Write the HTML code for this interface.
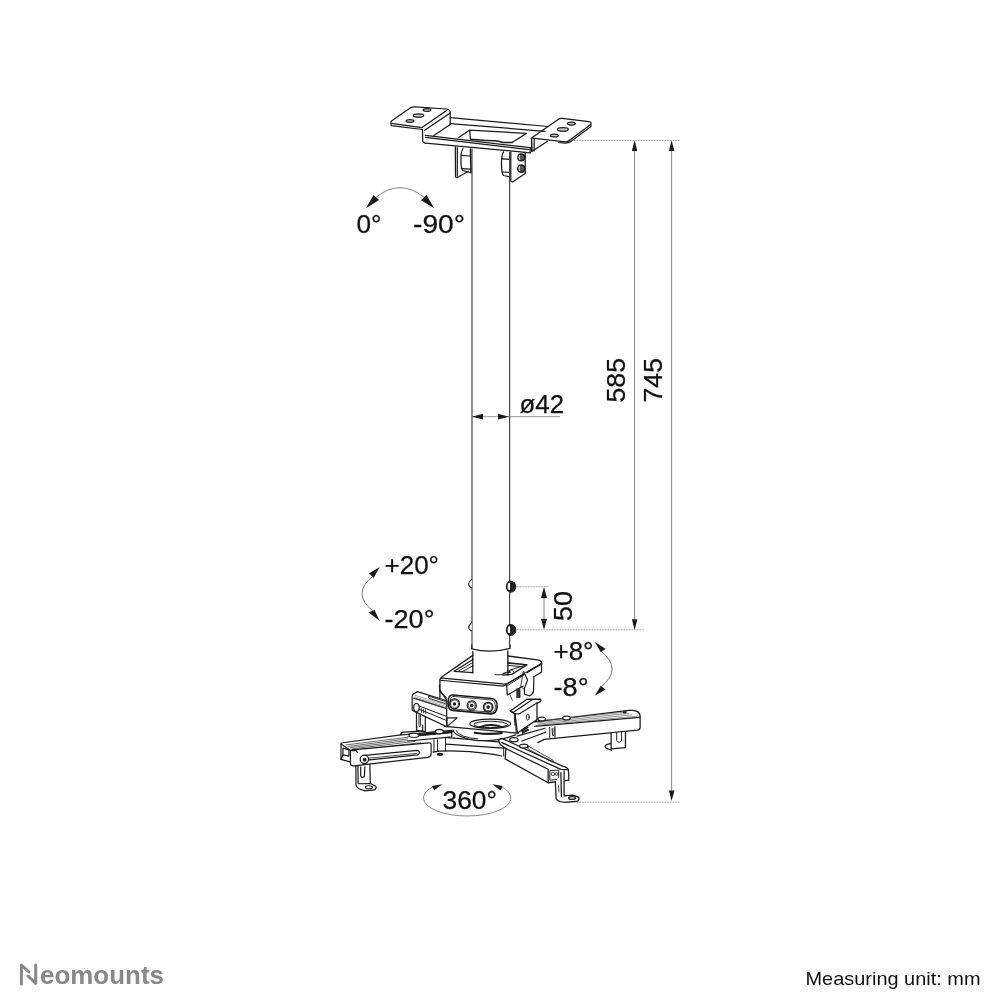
<!DOCTYPE html>
<html><head><meta charset="utf-8">
<style>
html,body{margin:0;padding:0;background:#fff;}
svg{display:block;will-change:transform;}
text{font-family:"Liberation Sans",sans-serif;}
</style></head><body>
<svg width="1004" height="1004" viewBox="0 0 1004 1004">
<!-- dimension lines -->
<g stroke="#888" stroke-width="1" fill="none">
  <line x1="634.6" y1="150" x2="634.6" y2="620"/>
  <line x1="671.6" y1="150" x2="671.6" y2="792"/>
  <line x1="544" y1="597" x2="544" y2="620"/>
  <line x1="472" y1="416.7" x2="560" y2="416.7" stroke="#999"/>
  <path d="M373,576 Q351,593.5 373,611" stroke="#777"/>
  <path d="M601,651 Q623,669 601,687" stroke="#777"/>
  <path d="M433.5,786.5 A43.7,18 0 1 0 500.9,786.5" stroke="#888"/>
  <path d="M376.3,197.1 Q400,178.1 423.7,197.1" stroke="#888"/>
</g>
<g stroke="#888" stroke-width="1" fill="none" stroke-dasharray="0.8 0.8">
  <line x1="574" y1="140.5" x2="680" y2="140.5"/>
  <line x1="517" y1="586.7" x2="548" y2="586.7"/>
  <line x1="517" y1="629.8" x2="644" y2="629.8"/>
  <line x1="566" y1="802.3" x2="680" y2="802.3"/>
</g>
<!-- arrowheads -->
<g fill="#1a1a1a">
  <path d="M634.6,140.3 L631.9,151 L637.3,151Z"/>
  <path d="M671.6,140.3 L668.9,151 L674.3,151Z"/>
  <path d="M634.6,630 L631.9,619.3 L637.3,619.3Z"/>
  <path d="M671.6,801 L668.9,790.5 L674.5,790.5Z"/>
  <path d="M544,587 L541,598 L547,598Z"/>
  <path d="M544,629.8 L541,618.8 L547,618.8Z"/>
  <path d="M472,416.7 L483,413.8 L483,419.6Z"/>
  <path d="M509,416.7 L498,413.8 L498,419.6Z"/>
  <path d="M379.7,567 L368.9,573.5 L373.8,577.8Z"/>
  <path d="M379.7,620.8 L368.5,612.5 L374.5,610Z"/>
  <path d="M594.8,642 L600.8,652.3 L605.6,648.7Z"/>
  <path d="M594.8,695.7 L600.8,685.8 L605.6,689.4Z"/>
  <path d="M366,208.3 L373.5,195.1 L379.1,199.9Z"/>
  <path d="M434.1,208.3 L426.5,194.7 L421,200.3Z"/>
  <path d="M442.4,784.2 L432,785.9 L434.2,790.3Z"/>
  <path d="M492.2,784.2 L502.7,785.9 L500.5,790.3Z"/>
</g>

<g id="topplate" stroke="#1a1a1a" stroke-width="1.25" fill="none" stroke-linejoin="round" stroke-linecap="round">
  <!-- left plate -->
  <path d="M422,127.6 L393,123.6 Q389.5,122.8 391.5,121 L410.5,107.8 Q412.5,106.6 415,106.8 L446.5,109 Q450.5,109.6 450.2,113"/>
  <path d="M391,123.6 L391.3,125.6 L422.5,129.5"/>
  <path d="M422,127.6 L447,110.2"/>
  <path d="M424.6,130.3 L450.2,113 L450.2,124.5 L433.8,135.4"/>
  <path d="M422.5,129.5 L422.7,141.5 L425,143"/>
  <ellipse cx="418.5" cy="115.5" rx="5.2" ry="1.7" fill="#ccc"/>
  <ellipse cx="427" cy="110" rx="3.9" ry="1.3" fill="#ccc"/>
  <ellipse cx="410" cy="121" rx="3.9" ry="1.3" fill="#ccc"/>
  <!-- back rail -->
  <path d="M450.2,117.6 L548,126.5"/>
  <path d="M450.2,123.6 L545,131.3"/>
  <!-- front rail -->
  <path d="M425.4,135.4 L530.2,147.7"/>
  <path d="M425.4,137.3 L529,149.6"/>
  <path d="M425.4,143.1 L530.2,152.8"/>
  <path d="M530.2,147.7 L530.2,152.8 M531.5,139 L532,151"/>
  <!-- inner frame -->
  <path d="M459,137.3 L469.4,130.2 L526.4,133.4 L512.1,142.5"/>
  <path d="M469.8,131 L470.4,138.6"/>
  
  
  <path d="M470.7,139.2 L483.6,140.3 Q492,140.7 495.3,140.8 Q500,141.5 503,142.5 L512.1,142.5" stroke-width="1.5"/>
  <!-- right plate -->
  <path d="M532.4,138.2 L565.6,141.8 Q568.6,141.8 570.5,139.5 L590.7,124.6 Q592,122 588.9,121.6 L562,118.4 Q559.8,118.3 558.5,119.2 L531.1,138.2"/>
  <path d="M590.9,124.8 L591,126.4 L570.8,141.6 Q568.6,143.2 565.3,143.2 L558.4,142.5"/>
  <path d="M531.5,139 L531.7,151.6 L547.6,141.3"/>
  <path d="M534.2,139.4 L534.2,151"/>
  <ellipse cx="562.9" cy="129.4" rx="5.4" ry="1.7" fill="#ccc"/>
  <ellipse cx="571.4" cy="123.6" rx="4" ry="1.4" fill="#ccc"/>
  <ellipse cx="554.4" cy="135.5" rx="4" ry="1.4" fill="#ccc"/>
  <!-- left hanging tab -->
  <path d="M455.3,147 L455.5,177 L457,177.8 L468,171.5"/>
  <path d="M457.3,147.6 L457.3,176"/>
  <path d="M463,148.5 Q460.5,152 461,162 Q461,169 463,170.5 L471.5,172.8"/>
  <path d="M461.3,155.4 L469.8,156 M461.3,168.6 L470.5,169.2"/>
  <path d="M470.5,149 L471,172" stroke-width="1.6"/>
  <!-- right hanging tab -->
  <path d="M510.8,151.8 L510.8,181.2 L512.5,182 L525.2,173.5 L525.2,152.4"/>
  <path d="M503.5,151.8 Q501.3,155 501.5,165 Q501.8,174 503.5,175.5 L510,176.8"/>
  <path d="M501.7,158.8 L510.5,159.5 M501.7,172 L510.5,172.5"/>
  <circle cx="521.3" cy="157.4" r="3.4" stroke-width="1.4" fill="#555"/><path d="M519.5,155.5 Q518.6,157.4 519.5,159.3" stroke="#fff" stroke-width="1"/>
  <circle cx="521.3" cy="168.6" r="3.6" stroke-width="1.4" fill="#555"/><path d="M519.5,166.6 Q518.6,168.6 519.5,170.6" stroke="#fff" stroke-width="1"/>
</g>

<g id="leftarm" transform="translate(335,725) scale(0.0996)" stroke="#1a1a1a" fill="none" stroke-linejoin="round" stroke-linecap="round">
 <g stroke-width="12">
  <!-- channel top & left face -->
  <path d="M60,345 L60,190 Q62,180 80,178 L660,100 L860,88 L1004,72"/>
  <path d="M60,190 L150,252"/>
  <path d="M60,345 L150,370"/>
  <path d="M80,232 L140,250 L140,312 L80,300 Z"/>
  <path d="M80,300 L60,340"/>
  <!-- ridges on top -->
  <path d="M110,200 L760,120 M130,215 L770,135 M150,228 L780,150 M170,240 L800,165 M190,252 L860,178" stroke-width="8" stroke="#444"/>
  <!-- front slider -->
  <path d="M155,258 Q155,250 170,250 L940,180 Q965,178 965,200 L965,295 Q962,318 930,325 L190,410 Q158,412 155,390 Z" fill="#fff"/>
  <path d="M165,258 L210,255 L225,275" />
  <path d="M300,355 L830,300 Q850,295 848,275 Q845,255 825,255 L300,305 Q268,310 268,332 Q270,355 300,355Z" fill="#fff"/>
  <path d="M320,335 L820,285" stroke-width="8"/>
  <circle cx="295" cy="345" r="42" fill="#fff"/>
  <circle cx="298" cy="348" r="13" fill="#222"/>
  <!-- foot -->
  <path d="M210,410 L210,600 Q212,620 240,640 L300,662 L395,652 Q420,640 410,615 L355,588 L350,395"/>
  <path d="M230,410 L232,590 L355,588"/>
  <path d="M258,420 L258,510 Q270,540 295,515 L300,420"/>
  <ellipse cx="340" cy="625" rx="35" ry="15"/>
  <!-- clamp on top -->
  <path d="M660,100 Q660,75 690,72 L860,62 Q900,60 920,78 L1004,70"/>
  <ellipse cx="795" cy="112" rx="42" ry="25" fill="#fff"/>
  <path d="M820,10 L820,60 M880,0 L880,60"/>
 </g>
</g>



<g id="center" transform="translate(430,715) scale(0.0996)" stroke="#1a1a1a" fill="none" stroke-linejoin="round" stroke-linecap="round">
 <g stroke-width="12">
  <!-- base body -->
  <path d="M150,225 L720,272 M160,292 L740,332" />
  <path d="M30,372 Q120,350 400,368 Q600,385 720,412" />
  <path d="M40,250 L40,372 M75,250 L75,362 M155,225 L155,362 M740,320 L740,412 M775,330 L775,422" stroke-width="10"/>
  <ellipse cx="100" cy="395" rx="25" ry="10" fill="#222"/>
  <!-- big disc -->
  <path d="M230,150 Q250,225 480,258 Q700,262 860,200" fill="#fff"/>
  <path d="M262,155 Q290,225 480,240" stroke-width="10"/>
  <path d="M450,178 Q590,200 720,182" stroke-width="22"/>
  <!-- swivel plate -->
  <path d="M150,115 L875,182" />
  <ellipse cx="605" cy="88" rx="205" ry="47" fill="#fff"/>
  <ellipse cx="610" cy="95" rx="170" ry="32" stroke-width="10"/>
  <path d="M500,122 Q605,80 720,120" stroke-width="18"/>
  <path d="M860,0 L865,180 M890,0 L885,185" stroke-width="11"/>
 </g>
</g>
<g id="rightside" transform="translate(490,690) scale(0.15936)" stroke="#1a1a1a" fill="none" stroke-linejoin="round" stroke-linecap="round">
 <g stroke-width="8">
  <!-- right arm -->
  <path d="M280,200 L870,128 Q940,122 942,165 L942,238 Q940,250 925,252 L340,310 L300,330" fill="#fff"/>
  <path d="M280,228 L940,172"/>
  <path d="M300,195 L860,138 M300,205 L870,147 M300,214 L890,156 M290,222 L920,165" stroke-width="4" stroke="#555"/>
  <path d="M375,235 L375,300 M408,230 L408,296 M390,240 L392,285 L402,285 L402,238" stroke-width="6"/>
  <ellipse cx="325" cy="182" rx="24" ry="12" fill="#fff"/>
  <ellipse cx="480" cy="176" rx="24" ry="12" fill="#fff"/>
  <ellipse cx="845" cy="140" rx="8" ry="4" fill="#333"/>
  <path d="M760,272 L760,370 L850,362 L850,265 M760,335 L728,345 Q715,355 730,366 L762,378" fill="#fff"/>
  <path d="M795,268 L795,318 Q810,338 825,318 L825,266" stroke-width="6"/>
  <!-- right block -->
  <path d="M127,132 L232,58 L317,57 Q324,66 315,74 L295,82 L295,186 L172,270 L157,150 Z" fill="#fff"/>
  <path d="M147,140 L262,63 M182,150 L297,80 M157,150 L182,150" stroke-width="7"/>
  <path d="M127,132 L157,150" />
  <ellipse cx="237" cy="170" rx="9" ry="19" stroke-width="6"/>
  <path d="M152,155 L156,222" stroke-width="6"/>
  <path d="M200,255 L235,235 M205,268 L238,250" stroke-width="12"/>
  <!-- connector from center to right arm -->
  <path d="M170,290 L345,240 M200,320 L350,265" />
  <!-- front-right arm -->
  <path d="M55,318 Q58,305 78,305 L455,478 Q492,486 492,505 L495,565 L365,582 L95,432 L100,368 Q52,340 55,318 Z" fill="#fff"/>
  <path d="M75,330 L445,498 L490,500 M100,368 L365,497 L365,582"/>
  <path d="M378,505 L432,503 L430,560 L378,566 Z" stroke-width="6"/>
  <circle cx="395" cy="527" r="11" stroke-width="5"/><circle cx="418" cy="527" r="9" stroke-width="5"/>
  <path d="M245,355 L395,440 Q402,452 390,452 L240,370 Q230,358 245,355Z" stroke-width="5"/>
  <path d="M410,575 L415,682 Q420,700 470,705 L550,698 Q565,685 555,672 L520,660 L465,665 L465,508 M445,518 L448,668" fill="#fff"/>
  <ellipse cx="515" cy="678" rx="22" ry="9"/>
  <path d="M430,600 L432,640" stroke-width="5"/>
  <ellipse cx="150" cy="312" rx="26" ry="13" fill="#fff"/>
  <ellipse cx="212" cy="352" rx="26" ry="13" fill="#fff"/>
 </g>
</g>
<g id="midleft" transform="translate(405,685) scale(0.0996)" stroke="#1a1a1a" fill="none" stroke-linejoin="round" stroke-linecap="round">
 <g stroke-width="12">
  <!-- ring below plate -->
  <!-- collar lower left -->
  <path d="M345,0 L350,60 L415,130"/>
  
  <!-- oval plate -->
  <path d="M480,100 L870,135 Q930,145 925,220 Q920,290 860,290 L480,255 Q430,250 432,180 Q435,95 480,100 Z" fill="#fff" stroke-width="16"/>
  <path d="M485,115 L865,150 Q910,160 908,220 Q905,275 860,273 L485,240 Q450,235 452,180 Q455,110 485,115Z" stroke-width="8"/>
  <circle cx="497" cy="190" r="50"/><circle cx="497" cy="190" r="40" stroke-width="7"/><circle cx="497" cy="190" r="12" fill="#333"/>
  <circle cx="670" cy="205" r="46"/><circle cx="670" cy="205" r="36" stroke-width="7"/><circle cx="670" cy="205" r="12" fill="#333"/>
  <circle cx="835" cy="222" r="48"/><circle cx="835" cy="222" r="38" stroke-width="7"/><circle cx="835" cy="222" r="12" fill="#333"/>
  <!-- left bracket -->
  <path d="M72,250 L72,112 Q74,90 100,82 L124,66 L419,158 L419,420 L131,282 Q80,262 72,250"  fill="#fff"/>
  <path d="M88,132 L412,234"/>
  <path d="M100,103 L412,200 M100,120 L412,217 M100,135 L412,232" stroke-width="5" stroke="#555"/>
  <path d="M240,113 L405,165 Q418,176 405,186 L240,134 Q228,124 240,113 Z" fill="#fff" stroke-width="9"/>
  <path d="M140,210 L412,314 M140,242 L412,354" stroke-width="10"/>
  <ellipse cx="115" cy="226" rx="28" ry="40" fill="#fff"/>
  <path d="M165,236 L165,275 M185,242 L185,280 M205,248 L205,285" stroke-width="8"/>
  <path d="M348,50 L420,154 M420,330 L524,330 L420,418 Z" />
  <!-- legs -->
  <path d="M115,282 L115,455 L204,470 L204,322"/>
  <path d="M140,300 L140,410 Q148,430 155,410 L155,305" stroke-width="9"/>
  <!-- clamp bar -->
  <path d="M30,495 L470,455 L470,520 L30,562" fill="#fff"/>
  <path d="M30,520 L470,480" stroke-width="9"/>
  <path d="M150,500 L470,470" stroke-width="20"/>
  <ellipse cx="90" cy="505" rx="50" ry="22" fill="#fff"/>
  <ellipse cx="345" cy="468" rx="40" ry="22" fill="#fff"/>
 </g>
</g>
<g id="collar" transform="translate(435,645) scale(0.10956)" stroke="#1a1a1a" fill="none" stroke-linejoin="round" stroke-linecap="round">
 <g stroke-width="12">
  <!-- collar front & right faces -->
  <path d="M45,318 L45,480" fill="none"/>
  <!-- collar top face -->
  <path d="M345,95 L58,295 Q50,302 70,302 L615,355 Q640,360 660,352 L975,168 Q975,142 935,135 L665,100" />
  <path d="M45,320 Q45,305 60,302 M45,322 L625,375 L975,172" stroke-width="10"/>
  <path d="M175,240 L345,132 M665,160 L840,182 L700,268 M175,240 L345,252 M620,275 L700,268" />
  <path d="M215,238 L345,160 M245,245 L345,190 M665,185 L800,200 M620,258 L690,250 L660,230" stroke-width="9"/>
  <!-- pole bottom + inner tube -->
  <path d="M335,0 L335,35 Q510,80 685,30 L685,0" fill="#fff"/>
  <path d="M345,60 L345,255 M665,55 L665,272"/>
 </g>
</g>

<g id="hinge" transform="translate(495,655) scale(0.05977)" stroke="#1a1a1a" fill="none" stroke-linejoin="round" stroke-linecap="round">
 <g stroke-width="20">
  <path d="M195,500 L205,670 L470,520"/>
  <path d="M200,520 L765,150" stroke-width="14"/>
  <path d="M775,120 L780,285 L545,425"/>
  <path d="M480,275 L545,420 L490,560 L495,655 L580,685 Q640,650 645,600 L650,380" fill="#fff"/>
  <path d="M470,290 L430,530 L500,580" stroke-width="14"/>
  <rect x="365" y="565" width="55" height="150" fill="#333" stroke-width="10"/>
  <path d="M250,660 L290,760" stroke-width="14"/>
  <path d="M0,330 L120,330 L260,250 L520,165 M210,140 L525,160" stroke-width="16"/>
  <path d="M230,290 L280,250 L330,290" stroke-width="14"/>
 </g>
</g>
<g id="pole" stroke="#444" stroke-width="1.2" fill="none">
  <line x1="472" y1="148.5" x2="472" y2="648.5"/>
  <line x1="509.6" y1="152" x2="509.6" y2="648"/>
</g>
<g id="txt" fill="#111" stroke="#111" stroke-width="0.25" font-size="25.5">
  <text x="356.5" y="233.3" textLength="25" lengthAdjust="spacingAndGlyphs">0°</text>
  <text x="413" y="233.3" textLength="52" lengthAdjust="spacingAndGlyphs">-90°</text>
  <text x="519.5" y="413.2" textLength="44.5" lengthAdjust="spacingAndGlyphs">ø42</text>
  <text transform="translate(625.1,402.5) rotate(-90)" textLength="44.5" lengthAdjust="spacingAndGlyphs">585</text>
  <text transform="translate(662.2,402.5) rotate(-90)" textLength="44.5" lengthAdjust="spacingAndGlyphs">745</text>
  <text x="384.5" y="574.2" textLength="54.5" lengthAdjust="spacingAndGlyphs">+20°</text>
  <text x="384.5" y="628" textLength="50" lengthAdjust="spacingAndGlyphs">-20°</text>
  <text transform="translate(572.1,621) rotate(-90)" textLength="30" lengthAdjust="spacingAndGlyphs">50</text>
  <text x="553.5" y="660" textLength="40" lengthAdjust="spacingAndGlyphs">+8°</text>
  <text x="553.5" y="695.7" textLength="35" lengthAdjust="spacingAndGlyphs">-8°</text>
  <text x="442.5" y="809.4" textLength="54.5" lengthAdjust="spacingAndGlyphs">360°</text>
</g>
<text x="40" y="984" font-size="26" font-weight="bold" fill="#888" textLength="124" lengthAdjust="spacingAndGlyphs">eomounts</text>
<path d="M21.4,984 V965 L29,972 M28,976 L35.7,983.3 V965" stroke="#888" stroke-width="3" fill="none" stroke-linecap="round" stroke-linejoin="round"/>
<text x="805.5" y="984.7" font-size="18.5" fill="#111" textLength="175" lengthAdjust="spacingAndGlyphs">Measuring unit: mm</text>

<g id="knobs" stroke="#1a1a1a" stroke-width="1.1" fill="none">
  <path d="M471.8,579 Q468.2,583.4 468.7,584 Q468.2,586 471.8,588" fill="#fff"/>
  <path d="M471.8,622.3 Q468.2,626.6 468.7,627 Q468.2,629 471.8,631" fill="#fff"/>
  <path d="M509.5,581.3 Q512,580.8 514.5,583 Q517,586.7 514.5,590.3 Q512,592.5 509.5,592 Q506.3,590 506.5,586.7 Q506.5,583 509.5,581.3Z" fill="#222"/>
  <path d="M508,583.5 L510,583 L510,590 L508,589.5 Q507.3,586.7 508,583.5Z" fill="#fff" stroke="none"/>
  <path d="M509.5,624.6 Q512,624.1 514.5,626.3 Q517,630 514.5,633.6 Q512,635.8 509.5,635.3 Q506.3,633.3 506.5,630 Q506.5,626.3 509.5,624.6Z" fill="#222"/>
  <path d="M508,626.8 L510,626.3 L510,633.3 L508,632.8 Q507.3,630 508,626.8Z" fill="#fff" stroke="none"/>
</g>
</svg>
</body></html>
